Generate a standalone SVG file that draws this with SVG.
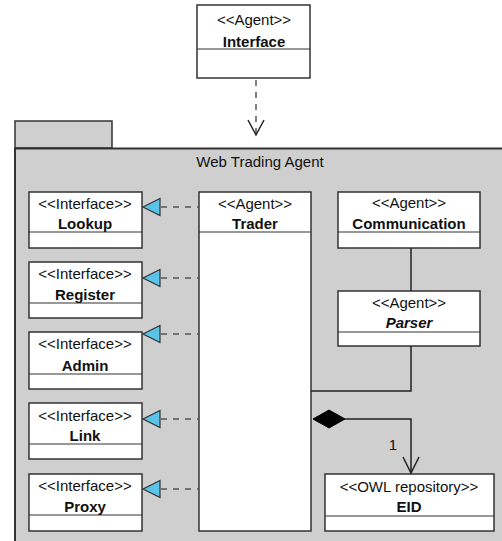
<svg xmlns="http://www.w3.org/2000/svg" width="502" height="541" viewBox="0 0 502 541">
<style>
.box{fill:#fff;stroke:#333;stroke-width:1.5}
.div{stroke:#333;stroke-width:1.2}
.st{font-family:"Liberation Sans",Arial,sans-serif;font-size:15px;fill:#111;text-anchor:middle}
.nm{font-family:"Liberation Sans",Arial,sans-serif;font-size:15px;font-weight:bold;fill:#111;text-anchor:middle}
.dash{fill:none;stroke:#555;stroke-width:1.5;stroke-dasharray:6 6}
.line{fill:none;stroke:#222;stroke-width:1.5}
.tri{fill:#5bc3e8;stroke:#333;stroke-width:1.2}
</style>
<rect width="502" height="541" fill="#fff"/>
<g id="package">
<rect x="15" y="121" width="97" height="27" fill="#cfcfcf" stroke="#333" stroke-width="1.5"/>
<rect x="15" y="148.5" width="700" height="500" fill="#cfcfcf" stroke="#333" stroke-width="2"/>
<text class="st" x="260" y="167">Web Trading Agent</text>
</g>
<g id="interface-agent">
<rect class="box" x="197" y="5" width="113" height="73"/>
<line class="div" x1="197" y1="49" x2="310" y2="49"/>
<text class="st" x="254" y="25">&lt;&lt;Agent&gt;&gt;</text>
<text class="nm" x="254" y="47">Interface</text>
</g>
<g id="lookup">
<rect class="box" x="29" y="192" width="113" height="56"/>
<line class="div" x1="29" y1="232" x2="142" y2="232"/>
<text class="st" x="85" y="209">&lt;&lt;Interface&gt;&gt;</text>
<text class="nm" x="85" y="229">Lookup</text>
</g>
<g id="register">
<rect class="box" x="29" y="262" width="113" height="56"/>
<line class="div" x1="29" y1="303" x2="142" y2="303"/>
<text class="st" x="85" y="279">&lt;&lt;Interface&gt;&gt;</text>
<text class="nm" x="85" y="300">Register</text>
</g>
<g id="admin">
<rect class="box" x="29" y="332" width="113" height="57"/>
<line class="div" x1="29" y1="374" x2="142" y2="374"/>
<text class="st" x="85" y="349">&lt;&lt;Interface&gt;&gt;</text>
<text class="nm" x="85" y="371">Admin</text>
</g>
<g id="link">
<rect class="box" x="29" y="403" width="113" height="56"/>
<line class="div" x1="29" y1="444" x2="142" y2="444"/>
<text class="st" x="85" y="421">&lt;&lt;Interface&gt;&gt;</text>
<text class="nm" x="85" y="441">Link</text>
</g>
<g id="proxy">
<rect class="box" x="29" y="474" width="113" height="57"/>
<line class="div" x1="29" y1="515" x2="142" y2="515"/>
<text class="st" x="85" y="491">&lt;&lt;Interface&gt;&gt;</text>
<text class="nm" x="85" y="512">Proxy</text>
</g>
<g id="trader">
<rect class="box" x="199" y="192" width="112" height="339"/>
<line class="div" x1="199" y1="232" x2="311" y2="232"/>
<text class="st" x="255" y="209">&lt;&lt;Agent&gt;&gt;</text>
<text class="nm" x="255" y="229">Trader</text>
</g>
<g id="communication">
<rect class="box" x="338" y="192" width="142" height="56"/>
<line class="div" x1="338" y1="232" x2="480" y2="232"/>
<text class="st" x="409" y="208">&lt;&lt;Agent&gt;&gt;</text>
<text class="nm" x="409" y="229">Communication</text>
</g>
<g id="parser">
<rect class="box" x="338" y="291" width="142" height="55"/>
<line class="div" x1="338" y1="332" x2="480" y2="332"/>
<text class="st" x="409" y="308">&lt;&lt;Agent&gt;&gt;</text>
<text class="nm" x="409" y="328" font-style="italic">Parser</text>
</g>
<g id="eid">
<rect class="box" x="325" y="474" width="169" height="57"/>
<line class="div" x1="325" y1="516" x2="494" y2="516"/>
<text class="st" x="409" y="492">&lt;&lt;OWL repository&gt;&gt;</text>
<text class="nm" x="409" y="512">EID</text>
</g>
<g id="connectors">
<line class="dash" x1="256" y1="80" x2="256" y2="133" stroke-dasharray="7 6"/>
<polyline class="line" points="248,120 256,135 264,120" stroke-width="1.3"/>
<line class="dash" x1="161" y1="207" x2="199" y2="207"/>
<polygon class="tri" points="143,207 160,198.5 160,215.5"/>
<line class="dash" x1="161" y1="278" x2="199" y2="278"/>
<polygon class="tri" points="143,278 160,269.5 160,286.5"/>
<line class="dash" x1="161" y1="334" x2="199" y2="334"/>
<polygon class="tri" points="143,334 160,325.5 160,342.5"/>
<line class="dash" x1="161" y1="419" x2="199" y2="419"/>
<polygon class="tri" points="143,419 160,410.5 160,427.5"/>
<line class="dash" x1="161" y1="489" x2="199" y2="489"/>
<polygon class="tri" points="143,489 160,480.5 160,497.5"/>
<line class="line" x1="411" y1="248" x2="411" y2="291"/>
<polyline class="line" points="411,346 411,391 311,391"/>
<polygon points="313,419 329,410 345,419 329,428" fill="#000" stroke="#000"/>
<polyline class="line" points="345,419 411,419 411,473"/>
<polyline class="line" points="403,457 411,473 419,457" stroke-width="1.3"/>
<text class="st" x="393" y="450">1</text>
</g>
</svg>
